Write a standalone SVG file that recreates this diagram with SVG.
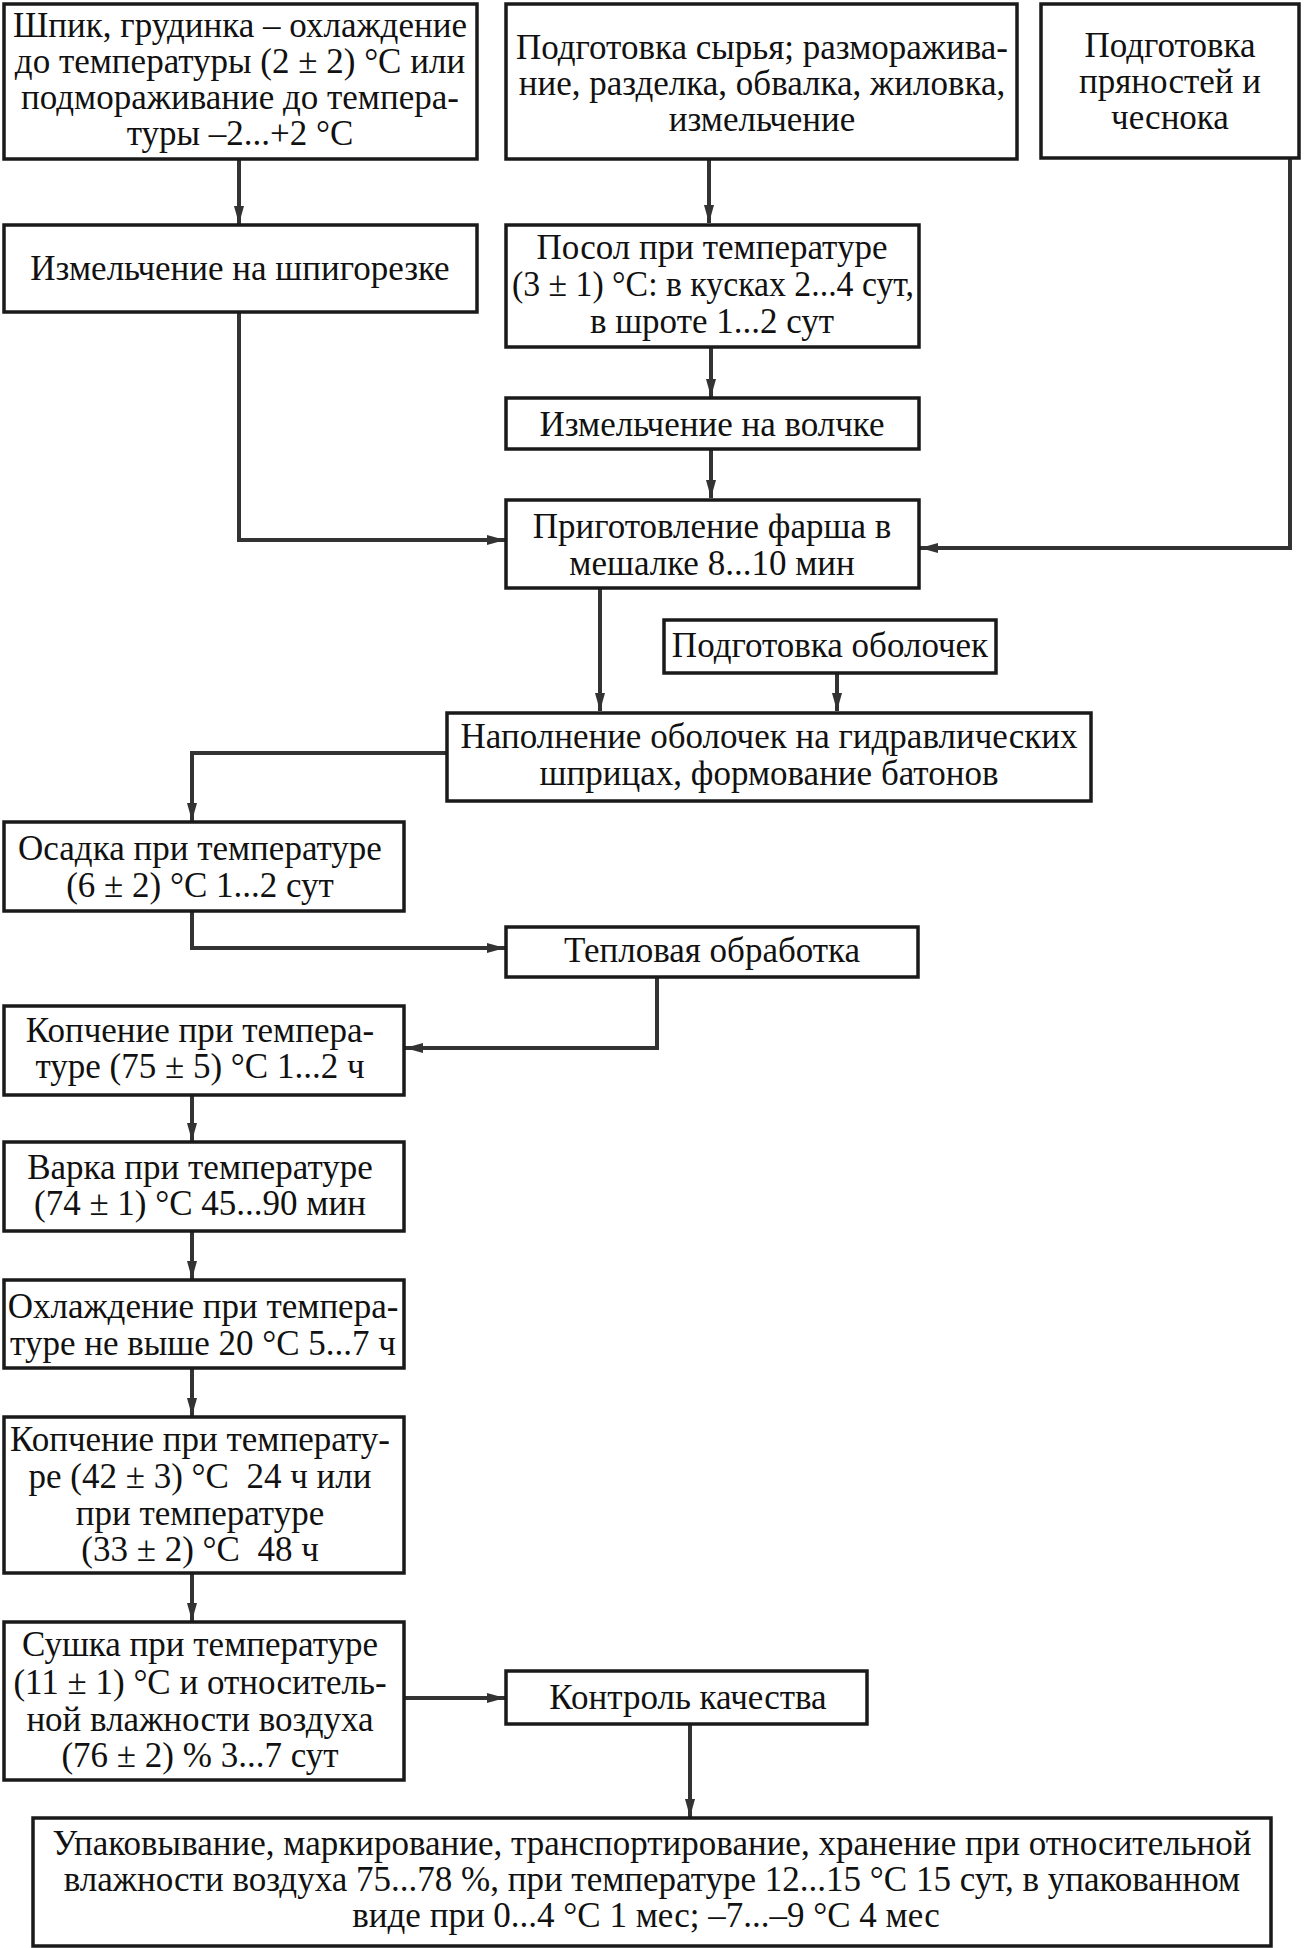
<svg xmlns="http://www.w3.org/2000/svg" width="1305" height="1948" viewBox="0 0 1305 1948">
<defs>
<marker id="ah" markerUnits="userSpaceOnUse" markerWidth="20" markerHeight="12" refX="18" refY="6" orient="auto">
<path d="M0,1 L18,6 L0,11 Z" fill="#333"/>
</marker>
<style>
.box{fill:#fff;stroke:#1a1a1a;stroke-width:3.5}
.t{font-family:"Liberation Serif","Times New Roman",serif;font-size:35px;fill:#111;text-anchor:middle}
.c{fill:none;stroke:#333;stroke-width:4;marker-end:url(#ah)}
</style>
</defs>
<rect width="1305" height="1948" fill="#fff"/>
<g id="connectors">
<path class="c" d="M239,159 V224"/>
<path class="c" d="M239,312 V540 H505"/>
<path class="c" d="M709,159 V223"/>
<path class="c" d="M711,347 V397"/>
<path class="c" d="M711,449 V498"/>
<path class="c" d="M1290,157 V548 H920"/>
<path class="c" d="M600,588 V711"/>
<path class="c" d="M837,673 V711"/>
<path class="c" d="M447,753 H192 V821"/>
<path class="c" d="M192,911 V948 H505"/>
<path class="c" d="M657,977 V1048 H405"/>
<path class="c" d="M192,1095 V1141"/>
<path class="c" d="M192,1231 V1279"/>
<path class="c" d="M192,1368 V1416"/>
<path class="c" d="M192,1573 V1621"/>
<path class="c" d="M404,1698 H505"/>
<path class="c" d="M690,1724 V1817"/>
</g>
<g id="n1"><rect class="box" x="4" y="4" width="473" height="155"/>
<text class="t" x="240" y="37">Шпик, грудинка – охлаждение</text>
<text class="t" x="240" y="73">до температуры (2 ± 2) °С или</text>
<text class="t" x="240" y="109">подмораживание до темпера-</text>
<text class="t" x="240" y="145">туры –2...+2 °С</text></g>
<g id="n2"><rect class="box" x="506" y="4" width="511" height="155"/>
<text class="t" x="762" y="59">Подготовка сырья; разморажива-</text>
<text class="t" x="762" y="95">ние, разделка, обвалка, жиловка,</text>
<text class="t" x="762" y="131">измельчение</text></g>
<g id="n3"><rect class="box" x="1041" y="4" width="258" height="154"/>
<text class="t" x="1170" y="57">Подготовка</text>
<text class="t" x="1170" y="93">пряностей и</text>
<text class="t" x="1170" y="129">чеснока</text></g>
<g id="n4"><rect class="box" x="4" y="225" width="473" height="87"/>
<text class="t" x="240" y="280">Измельчение на шпигорезке</text></g>
<g id="n5"><rect class="box" x="506" y="225" width="413" height="122"/>
<text class="t" x="712" y="259">Посол при температуре</text>
<text class="t" x="713" y="296" textLength="402" lengthAdjust="spacingAndGlyphs">(3 ± 1) °С: в кусках 2...4 сут,</text>
<text class="t" x="712" y="333">в шроте 1...2 сут</text></g>
<g id="n6"><rect class="box" x="506" y="398" width="413" height="51"/>
<text class="t" x="712" y="436">Измельчение на волчке</text></g>
<g id="n7"><rect class="box" x="506" y="500" width="413" height="88"/>
<text class="t" x="712" y="538">Приготовление фарша в</text>
<text class="t" x="712" y="575">мешалке 8...10 мин</text></g>
<g id="n8"><rect class="box" x="664" y="620" width="332" height="53"/>
<text class="t" x="830" y="657">Подготовка оболочек</text></g>
<g id="n9"><rect class="box" x="447" y="713" width="644" height="88"/>
<text class="t" x="769" y="748">Наполнение оболочек на гидравлических</text>
<text class="t" x="769" y="785">шприцах, формование батонов</text></g>
<g id="n10"><rect class="box" x="4" y="822" width="400" height="89"/>
<text class="t" x="200" y="860">Осадка при температуре</text>
<text class="t" x="200" y="897">(6 ± 2) °С 1...2 сут</text></g>
<g id="n11"><rect class="box" x="506" y="927" width="412" height="50"/>
<text class="t" x="712" y="962">Тепловая обработка</text></g>
<g id="n12"><rect class="box" x="4" y="1006" width="400" height="89"/>
<text class="t" x="200" y="1042">Копчение при темпера-</text>
<text class="t" x="200" y="1078">туре (75 ± 5) °С 1...2 ч</text></g>
<g id="n13"><rect class="box" x="4" y="1142" width="400" height="89"/>
<text class="t" x="200" y="1179">Варка при температуре</text>
<text class="t" x="200" y="1215">(74 ± 1) °С 45...90 мин</text></g>
<g id="n14"><rect class="box" x="4" y="1280" width="400" height="88"/>
<text class="t" x="203" y="1318">Охлаждение при темпера-</text>
<text class="t" x="203" y="1355">туре не выше 20 °С 5...7 ч</text></g>
<g id="n15"><rect class="box" x="4" y="1417" width="400" height="156"/>
<text class="t" x="200" y="1451">Копчение при температу-</text>
<text class="t" x="200" y="1488">ре (42 ± 3) °С&#160; 24 ч или</text>
<text class="t" x="200" y="1525">при температуре</text>
<text class="t" x="200" y="1561">(33 ± 2) °С&#160; 48 ч</text></g>
<g id="n16"><rect class="box" x="4" y="1622" width="400" height="158"/>
<text class="t" x="200" y="1656">Сушка при температуре</text>
<text class="t" x="200" y="1694">(11 ± 1) °С и относитель-</text>
<text class="t" x="200" y="1731">ной влажности воздуха</text>
<text class="t" x="200" y="1767">(76 ± 2) % 3...7 сут</text></g>
<g id="n17"><rect class="box" x="506" y="1671" width="361" height="53"/>
<text class="t" x="688" y="1709">Контроль качества</text></g>
<g id="n18"><rect class="box" x="33" y="1818" width="1238" height="128"/>
<text class="t" x="652" y="1855">Упаковывание, маркирование, транспортирование, хранение при относительной</text>
<text class="t" x="652" y="1891">влажности воздуха 75...78 %, при температуре 12...15 °С 15 сут, в упакованном</text>
<text class="t" x="646" y="1927">виде при 0...4 °С 1 мес; –7...–9 °С 4 мес</text></g>
</svg>
